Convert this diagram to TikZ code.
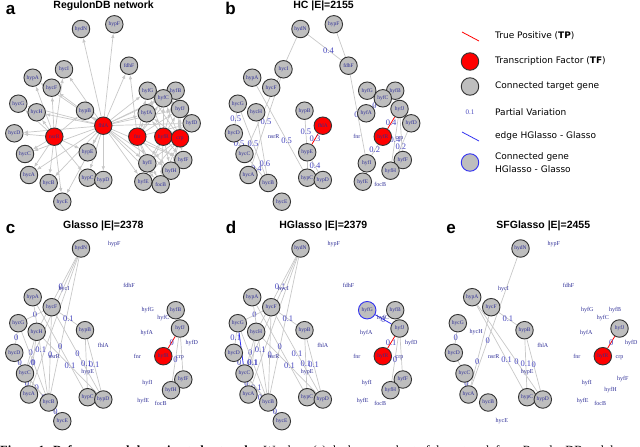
\documentclass[tikz,border=0pt]{standalone}
\usepackage{fontspec}
\setmainfont{Liberation Serif}
\newfontfamily\headfont{Liberation Sans}
\newfontfamily\legfont{DejaVu Sans}
\usepackage{tikz}
\usetikzlibrary{arrows.meta, calc, backgrounds}
\definecolor{nodegray}{RGB}{190,190,190}
\definecolor{linkgray}{RGB}{200,200,200}
\definecolor{genetext}{RGB}{45,45,150}
\definecolor{pvblue}{RGB}{70,70,190}
\definecolor{hgblue}{RGB}{50,50,240}
\tikzset{
  gene/.style={circle, draw=black!80, fill=nodegray, line width=0.9pt, minimum size=17.5pt, inner sep=0pt, text=genetext, font=\fontsize{5.5}{5.5}\selectfont},
  tf/.style={gene, fill=red},
  hgene/.style={gene, draw=hgblue},
  lbl/.style={circle, minimum size=17.5pt, inner sep=0pt, text=genetext, font=\fontsize{6}{6}\selectfont},
  link/.style={draw=linkgray, line width=0.7pt},
  reg/.style={link, -{Latex[length=4.5pt, width=3.5pt]}},
  tp/.style={draw=red, line width=0.8pt},
  hg/.style={draw=hgblue, line width=0.8pt},
  pv/.style={text=pvblue, inner sep=0.5pt, font=\fontsize{8.5}{8.5}\selectfont},
  title/.style={font=\headfont\bfseries\fontsize{10.5}{12}\selectfont, anchor=base},
  letter/.style={font=\headfont\bfseries\fontsize{17}{17}\selectfont, anchor=base},
  legtext/.style={font=\legfont\fontsize{9}{13}\selectfont, anchor=west, align=left, inner sep=0pt},
}

\begin{document}
\begin{tikzpicture}[x=1pt, y=-1pt]
  \useasboundingbox (0,0) rectangle (640,447);
  % gene layout shared by all panels
  \foreach \g/\x/\y in {hydN/81/29, hypF/114.3/24.3, fdhF/129/65.7, hycI/64/69.3, hypA/32.7/77.7,
      hycF/51.7/87.7, hycG/18.3/103.7, hycH/36.7/112.3, hypB/85/110.7, fhlA/103.3/125.7,
      hycD/14.3/133.3, nsrR/54.3/136.7, hycC/25/154, hypE/87.7/152.3, hycA/29/175,
      hycB/48.7/183, hypC/87.7/177.7, hypD/103.3/180, hycE/62.3/201.7, fnr/137.3/136.7,
      hyfR/163.3/136.7, crp/180/138.3, hyfG/147.7/90.7, hyfB/175.7/90.7, hyfC/163.3/98.3,
      hyfJ/180/109, hyfA/146.7/113.3, hyfD/191.7/123.3, hyfI/147.3/163.3, hyfF/183.3/160,
      hyfH/171/170.7, hyfE/143.3/181.7, focB/160.7/184.3}
    \coordinate (\g) at (\x,\y);

  % (a) RegulonDB
  \node[letter] (la) at (10.5,14) {a};
  \node[title] (ta) at (103.6,8.8) {RegulonDB network};
  \foreach \g in {hydN,hypF,fdhF,hycI,hypA,hycF,hycG,hycH,hypB,hycD,hycC,hypE,hycA,hycB,hypC,hypD,
      hycE,hyfG,hyfB,hyfC,hyfJ,hyfA,hyfD,hyfI,hyfF,hyfH,hyfE,focB}
    \node[gene] (a\g) at (\g) {\g};
  \foreach \g in {fhlA,nsrR,fnr,hyfR,crp}
    \node[tf] (a\g) at (\g) {\g};
  \begin{scope}[on background layer]
    \foreach \t in {hydN,hypF,fdhF,hycI,hypA,hycF,hycH,hypB,hypE,hypC,hypD,hycB,hycA,hycE,hycC,hycD,
        hycG,hyfG,hyfA,hyfC,hyfB,hyfJ,hyfD,hyfI,hyfE,focB,hyfF,hyfH}
      \draw[reg] (afhlA) -- (a\t);
    \foreach \t in {hycG,hycH,hycD,hycC,hycA,hycB,hycE,hycI,hycF,hypA,hypB,hypE,hypC}
      \draw[reg] (ansrR) -- (a\t);
    \foreach \t in {fdhF,hyfG,hyfA,hyfC,hyfB,hyfJ,hyfD,hyfI,hyfE,focB,hyfH,hyfF}
      \draw[reg] (afnr) -- (a\t);
    \foreach \t in {hyfG,hyfB,hyfC,hyfJ,hyfA,hyfD,hyfI,hyfF,hyfH,hyfE,focB}
      \draw[reg] (ahyfR) -- (a\t);
    \foreach \t in {hyfB,hyfJ,hyfD,hyfF,hyfH,focB,hyfC,hyfI,hyfE,hyfG,hyfA}
      \draw[reg] (acrp) -- (a\t);
  \end{scope}

  % (b) HC
  \node[letter] (lb) at (230.5,14) {b};
  \node[title] (tb) at (323.5,8.8) {HC |E|=2155};
  \foreach \g in {hydN,hypF,fdhF,hycI,hypA,hycF,hycG,hycH,hypB,hycD,hycC,hypE,hycA,hycB,hypC,hypD,
      hycE,hyfG,hyfB,hyfC,hyfJ,hyfA,hyfD,hyfI,hyfF,hyfH,hyfE}
    \node[gene] (b\g) at ($(\g)+(219.5,0)$) {\g};
  \foreach \g in {fhlA,hyfR}
    \node[tf] (b\g) at ($(\g)+(219.5,0)$) {\g};
  \foreach \g in {nsrR,fnr,crp,focB}
    \node[lbl] (b\g) at ($(\g)+(219.5,0)$) {\g};
  \begin{scope}[on background layer]
    \foreach \u/\v/\w/\p in {hydN/fdhF/0.4/0.62, hydN/hycC/0.5/0.5, hycI/hycA/0.5/0.5,
        hycG/hycD/0.5/0.5, hycD/hycC/0.5/0.5, hycG/hycB/0.5/0.5, hycC/hycB/0.4/0.5,
        hycH/hycB/0.6/0.8, hypA/hypC/0.5/0.65, hypB/hypE/0.5/0.5, hypE/hypC//0.5,
        hypE/hypD/0.4/0.5, hypF/fdhF//0.5, fdhF/hyfI/0./0.5, hyfR/hyfI/0.2/0.5,
        hyfJ/hyfH/0.4/0.5, hyfD/hyfH/0.2/0.5, hyfC/hyfA/0/0.5, hyfJ/hyfF//0.5}
      \draw[link] (b\u) -- node[pv, pos=\p] {\w} (b\v);
    \draw[tp] (bfhlA) -- node[pv] {0.3} (bhypE);
    \draw[tp] (bhyfJ) -- node[pv] {0.4} (bhyfR);
  \end{scope}

  % (c) Glasso
  \node[letter] (lc) at (10.5,233) {c};
  \node[title] (tc) at (103.3,228.3) {Glasso |E|=2378};
  \foreach \g in {hydN,hypA,hycF,hycG,hycH,hypB,hycD,hycC,hycA,hycB,hypC,hypD,hycE,hyfB,hyfJ,hyfF,hyfH}
    \node[gene] (c\g) at ($(\g)+(0,219.5)$) {\g};
  \node[tf] (chyfR) at ($(hyfR)+(0,219.5)$) {hyfR};
  \foreach \g in {hypF,fdhF,hycI,fhlA,nsrR,hypE,fnr,crp,hyfG,hyfC,hyfA,hyfD,hyfI,hyfE,focB}
    \node[lbl] (c\g) at ($(\g)+(0,219.5)$) {\g};
  \begin{scope}[on background layer]
    \foreach \u/\v/\w/\p in {hydN/hycH/0/0.45, hydN/hycC//0.5, hydN/hycB//0.5, hydN/hycA//0.5,
        hycF/hypB/0.1/0.5, hycG/hycF/0/0.5, hycG/hycD/0/0.5, hycH/hycC/0/0.5,
        hypA/hycB/0.1/0.5, hypA/hypC/0/0.5, hycH/hypD/0.1/0.5, hycF/hypD/0/0.5,
        hypB/hypC/0.1/0.5, hypB/hypD/0.1/0.5, hycD/hycC/0/0.5, hycG/hycB/0/0.5,
        hycH/hycA/0/0.5, hycF/hycB/0/0.5, hycC/hycA/0/0.5, hycC/hycB/0/0.5,
        hycC/hycE/0/0.5, hycB/hycE/0/0.5, hyfJ/hyfH/0/0.5, hyfJ/hyfF//0.5, hyfB/hyfJ//0.5}
      \draw[link] (c\u) -- node[pv, pos=\p] {\w} (c\v);
    \draw[tp] (chyfJ) -- node[pv] {0} (chyfR);
  \end{scope}

  % (d) HGlasso
  \node[letter] (ld) at (231,233) {d};
  \node[title] (td) at (323.3,228.3) {HGlasso |E|=2379};
  \foreach \g in {hydN,hypA,hycF,hycG,hycH,hypB,hycD,hycC,hycA,hycB,hypC,hypD,hycE,hyfB,hyfJ,hyfF,hyfH}
    \node[gene] (d\g) at ($(\g)+(219.5,219.5)$) {\g};
  \node[tf] (dhyfR) at ($(hyfR)+(219.5,219.5)$) {hyfR};
  \node[hgene] (dhyfG) at ($(hyfG)+(219.5,219.5)$) {hyfG};
  \foreach \g in {hypF,fdhF,hycI,fhlA,nsrR,hypE,fnr,crp,hyfC,hyfA,hyfD,hyfI,hyfE,focB}
    \node[lbl] (d\g) at ($(\g)+(219.5,219.5)$) {\g};
  \begin{scope}[on background layer]
    \foreach \u/\v/\w/\p in {hydN/hycH/0.1/0.45, hydN/hycC//0.5, hydN/hycB//0.5, hydN/hycA//0.5,
        hycF/hypB/0.1/0.5, hycG/hycF/0/0.5, hycG/hycD/0.1/0.5, hycH/hycC/0/0.5,
        hypA/hycB/0.1/0.5, hypA/hypC/0/0.5, hycH/hypD/0.1/0.5, hycF/hypD/0.1/0.5,
        hypB/hypC/0.1/0.5, hypB/hypD/0.1/0.5, hycD/hycC/0/0.5, hycG/hycB/0.1/0.5,
        hycH/hycA/0.1/0.5, hycF/hycB/0/0.5, hycC/hycA/0/0.5, hycC/hycB/0.1/0.5,
        hycC/hycE/0.1/0.5, hycB/hycE/0/0.5, hyfJ/hyfH/0/0.5, hyfJ/hyfF//0.5, hyfB/hyfJ//0.5}
      \draw[link] (d\u) -- node[pv, pos=\p] {\w} (d\v);
    \draw[hg] (dhycG) -- (dhycC);
    \draw[hg] (dhyfG) -- node[pv] {0} (dhyfJ);
    \draw[tp] (dhyfJ) -- node[pv] {0.1} (dhyfR);
  \end{scope}

  % (e) SFGlasso
  \node[letter] (le) at (451,233) {e};
  \node[title] (te) at (543.3,228.3) {SFGlasso |E|=2455};
  \foreach \g in {hydN,hypA,hycF,hycG,hypB,hycD,hycC,hycA,hycB,hypC,hypD,hyfJ}
    \node[gene] (e\g) at ($(\g)+(439.5,219.5)$) {\g};
  \node[tf] (ehyfR) at ($(hyfR)+(439.5,219.5)$) {hyfR};
  \foreach \g in {hypF,fdhF,hycI,hycH,fhlA,nsrR,hypE,hycE,fnr,crp,hyfG,hyfB,hyfC,hyfA,hyfD,hyfI,
      hyfF,hyfH,hyfE,focB}
    \node[lbl] (e\g) at ($(\g)+(439.5,219.5)$) {\g};
  \begin{scope}[on background layer]
    \foreach \u/\v/\w/\p in {hydN/hycA/0/0.65, hycF/hycA/0/0.65, hycF/hypB/0.1/0.5,
        hycG/hycD/0/0.5, hycD/hycC//0.5, hycC/hycA/0/0.5, hypA/hypC/0.1/0.65,
        hypA/hypD/0/0.65, hypB/hypC/0.1/0.5, hypB/hypD/0/0.5}
      \draw[link] (e\u) -- node[pv, pos=\p] {\w} (e\v);
    \draw[tp] (ehyfJ) -- node[pv] {0} (ehyfR);
  \end{scope}

  % legend
  \draw[tp] (462,32) -- (479,41);
  \node[legtext] (kTP) at (495,36) {True Positive (\textbf{TP})};
  \node[tf] (kTFc) at (470,61.5) {};
  \node[legtext] (kTF) at (495,61.5) {Transcription Factor (\textbf{TF})};
  \node[gene] (kGc) at (470,86.5) {};
  \node[legtext] (kG) at (495,86.5) {Connected target gene};
  \node[pv, font=\fontsize{7}{7}\selectfont] (kPVc) at (470,112) {0.1};
  \node[legtext] (kPV) at (495,112) {Partial Variation};
  \draw[hg] (462,132) -- (479,141);
  \node[legtext] (kHE) at (495,136.5) {edge HGlasso - Glasso};
  \node[hgene] (kHGc) at (470,162.5) {};
  \node[legtext] (kHG) at (495,162.5) {Connected gene\\HGlasso - Glasso};

  % caption, cut by the page edge
  \begin{scope}
    \clip (0,430) rectangle (640,447);
    \node[anchor=base west, inner sep=0pt, font=\fontsize{12.5}{14}\selectfont] (cap) at (0,454)
      {\textbf{Figure 1: Reference and the estimated networks.} We show (a) the known subset of the network from RegulonDB and the networks estimated by};
  \end{scope}
\end{tikzpicture}
\end{document}
